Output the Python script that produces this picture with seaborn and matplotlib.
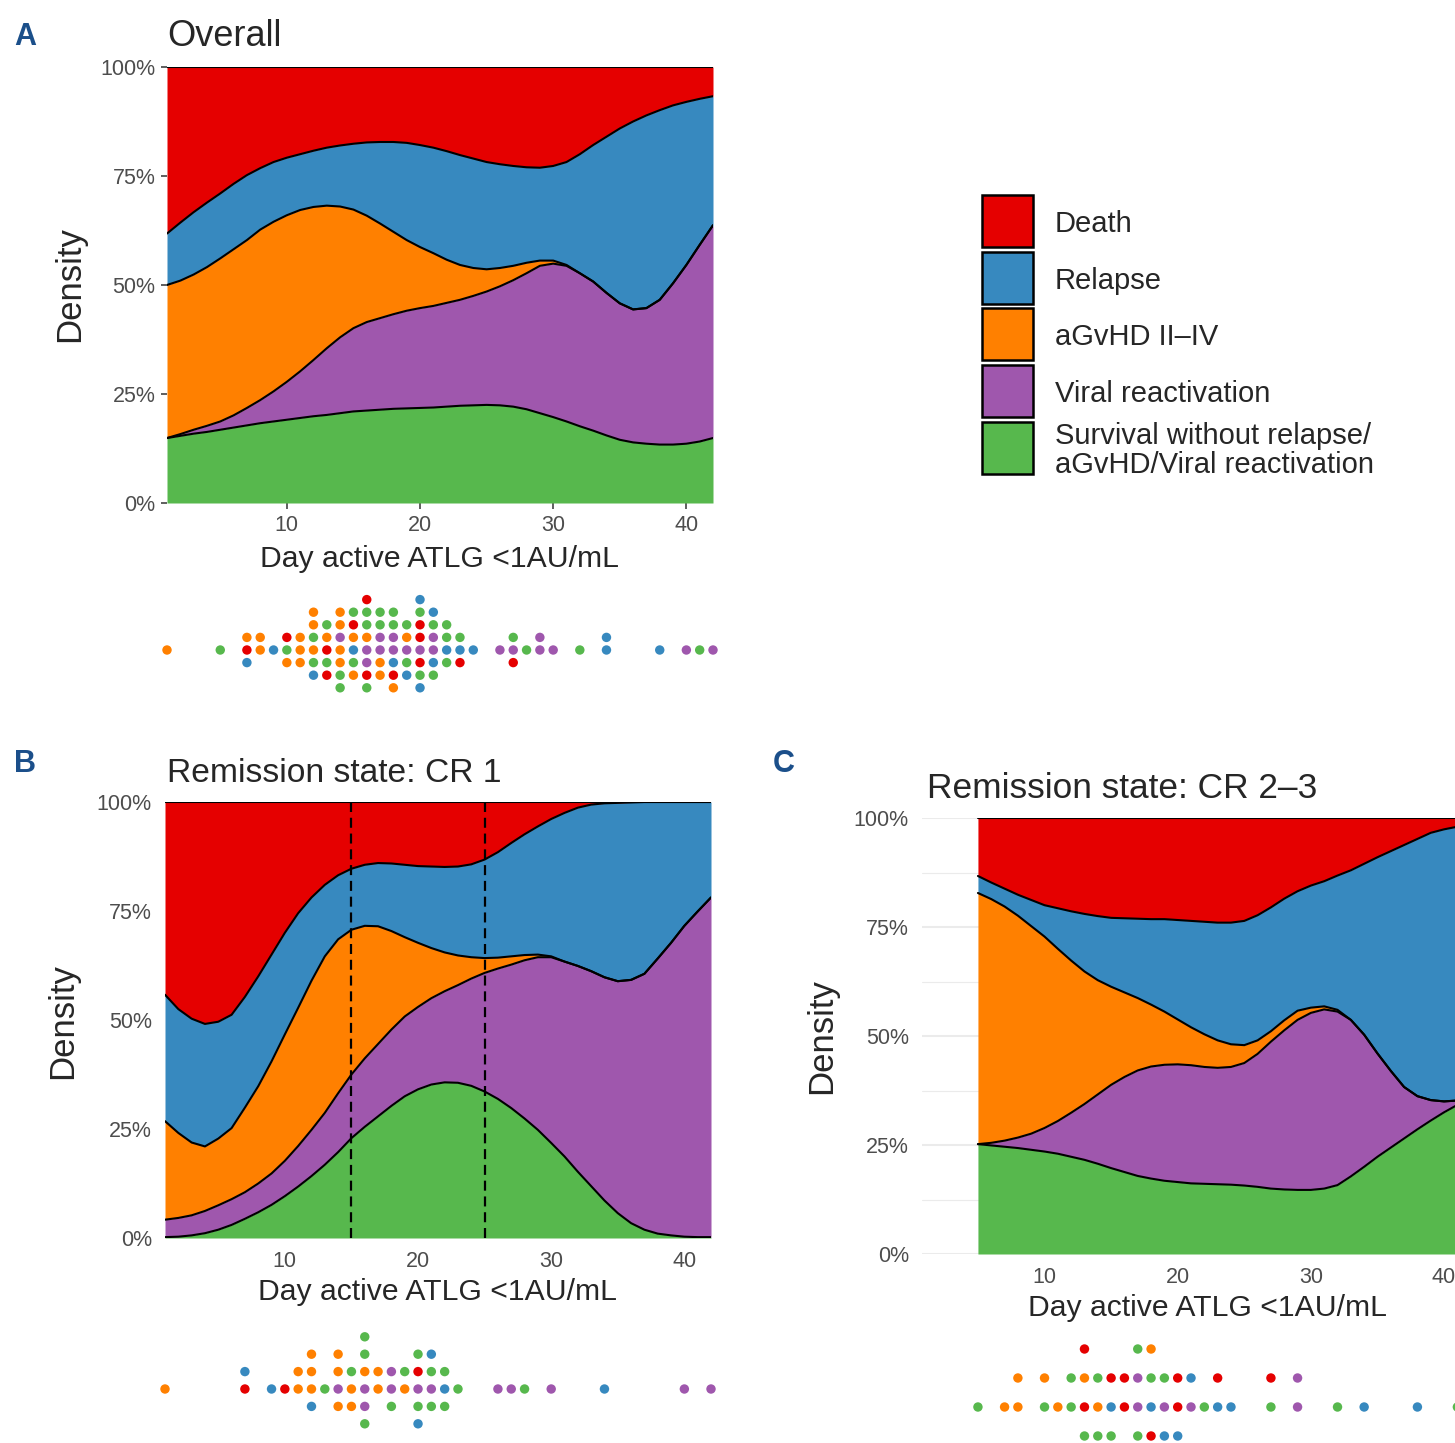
import numpy as np
import pandas as pd
import matplotlib
matplotlib.use("Agg")
import matplotlib.pyplot as plt
import seaborn as sns
from matplotlib.patches import Rectangle

sns.set_theme(style="white")
plt.rcParams['font.family'] = ['Liberation Sans', 'DejaVu Sans']

# ---------------- data ----------------
outcome_codes = ["R", "B", "O", "P", "G"]
outcome_labels = ["Death", "Relapse", "aGvHD II\u2013IV", "Viral reactivation",
                  "Survival without relapse/\naGvHD/Viral reactivation"]
outcome_colors = {"R": "#E50000", "B": "#3789BF", "O": "#FF8000",
                  "P": "#9F57AD", "G": "#57B84D"}

# Panel A: cumulative (stacked) conditional density boundaries, read per day
days_A = list(range(1, 43))
A_green_top = [0.149, 0.154, 0.159, 0.163, 0.168, 0.173, 0.178, 0.183, 0.187, 0.191,
               0.195, 0.199, 0.202, 0.206, 0.210, 0.212, 0.214, 0.216, 0.217, 0.218,
               0.219, 0.221, 0.223, 0.224, 0.225, 0.224, 0.221, 0.215, 0.206, 0.197,
               0.187, 0.176, 0.166, 0.155, 0.145, 0.139, 0.136, 0.134, 0.134, 0.136,
               0.141, 0.149]
A_purple_top = [0.149, 0.158, 0.168, 0.177, 0.187, 0.201, 0.218, 0.236, 0.256, 0.278,
                0.302, 0.328, 0.355, 0.380, 0.401, 0.415, 0.424, 0.433, 0.441, 0.447,
                0.452, 0.459, 0.466, 0.475, 0.485, 0.497, 0.511, 0.527, 0.544, 0.549,
                0.544, 0.527, 0.508, 0.482, 0.458, 0.444, 0.447, 0.466, 0.504, 0.546,
                0.592, 0.637]
A_orange_top = [0.500, 0.510, 0.524, 0.541, 0.561, 0.582, 0.603, 0.627, 0.645, 0.660,
                0.672, 0.679, 0.682, 0.680, 0.673, 0.659, 0.641, 0.622, 0.603, 0.587,
                0.573, 0.558, 0.546, 0.539, 0.536, 0.539, 0.544, 0.551, 0.556, 0.556,
                0.546, 0.527, 0.508, 0.482, 0.458, 0.444, 0.447, 0.466, 0.504, 0.546,
                0.592, 0.637]
A_blue_top = [0.618, 0.643, 0.667, 0.689, 0.710, 0.732, 0.752, 0.768, 0.782, 0.792,
              0.800, 0.808, 0.815, 0.820, 0.824, 0.827, 0.828, 0.828, 0.826, 0.821,
              0.815, 0.807, 0.798, 0.790, 0.782, 0.777, 0.773, 0.770, 0.769, 0.773,
              0.782, 0.800, 0.821, 0.840, 0.859, 0.875, 0.889, 0.901, 0.912, 0.920,
              0.927, 0.933]
A_red_top = [1.0] * len(days_A)

# Panel B
days_B = list(range(1, 43))
B_green_top = [0.002, 0.003, 0.006, 0.011, 0.019, 0.030, 0.044, 0.059, 0.076, 0.096,
               0.118, 0.142, 0.168, 0.197, 0.229, 0.255, 0.279, 0.303, 0.325, 0.341,
               0.352, 0.357, 0.356, 0.349, 0.336, 0.319, 0.298, 0.274, 0.248, 0.218,
               0.187, 0.152, 0.119, 0.086, 0.057, 0.034, 0.019, 0.010, 0.006, 0.003,
               0.002, 0.002]
B_purple_top = [0.042, 0.046, 0.052, 0.062, 0.075, 0.089, 0.105, 0.125, 0.148, 0.177,
                0.211, 0.248, 0.287, 0.332, 0.375, 0.412, 0.445, 0.478, 0.508, 0.530,
                0.550, 0.566, 0.580, 0.595, 0.608, 0.618, 0.627, 0.637, 0.644, 0.644,
                0.634, 0.624, 0.612, 0.598, 0.589, 0.592, 0.606, 0.641, 0.677, 0.716,
                0.749, 0.781]
B_orange_top = [0.268, 0.241, 0.219, 0.210, 0.228, 0.252, 0.299, 0.348, 0.405, 0.467,
                0.528, 0.590, 0.646, 0.685, 0.707, 0.716, 0.715, 0.704, 0.690, 0.677,
                0.665, 0.655, 0.648, 0.644, 0.642, 0.643, 0.646, 0.649, 0.650, 0.646,
                0.634, 0.624, 0.612, 0.598, 0.589, 0.592, 0.606, 0.641, 0.677, 0.716,
                0.749, 0.781]
B_blue_top = [0.558, 0.525, 0.503, 0.491, 0.496, 0.512, 0.553, 0.600, 0.650, 0.700,
              0.745, 0.781, 0.810, 0.832, 0.847, 0.856, 0.860, 0.859, 0.856, 0.853,
              0.852, 0.851, 0.852, 0.857, 0.868, 0.885, 0.906, 0.926, 0.944, 0.961,
              0.975, 0.987, 0.994, 0.997, 0.998, 0.999, 1.0, 1.0, 1.0, 1.0,
              1.0, 1.0]
B_red_top = [1.0] * len(days_B)
B_cutoffs = [15, 25]

# Panel C
days_C = list(range(5, 43))
C_green_top = [0.252, 0.249, 0.246, 0.243, 0.239, 0.235, 0.230, 0.223, 0.216, 0.207,
               0.197, 0.188, 0.179, 0.173, 0.168, 0.165, 0.162, 0.161, 0.160, 0.159,
               0.157, 0.154, 0.150, 0.148, 0.147, 0.147, 0.150, 0.158, 0.178, 0.200,
               0.223, 0.244, 0.265, 0.286, 0.306, 0.325, 0.342, 0.360]
C_purple_top = [0.252, 0.255, 0.260, 0.267, 0.276, 0.289, 0.305, 0.324, 0.344, 0.366,
                0.388, 0.406, 0.421, 0.430, 0.434, 0.435, 0.433, 0.429, 0.427, 0.429,
                0.438, 0.459, 0.487, 0.513, 0.537, 0.553, 0.561, 0.556, 0.537, 0.503,
                0.460, 0.420, 0.383, 0.362, 0.353, 0.350, 0.352, 0.360]
C_orange_top = [0.828, 0.814, 0.797, 0.776, 0.752, 0.728, 0.700, 0.673, 0.648, 0.628,
                0.613, 0.600, 0.587, 0.572, 0.556, 0.538, 0.520, 0.504, 0.490, 0.481,
                0.479, 0.490, 0.511, 0.536, 0.558, 0.565, 0.568, 0.560, 0.537, 0.503,
                0.460, 0.420, 0.383, 0.362, 0.353, 0.350, 0.352, 0.360]
C_blue_top = [0.867, 0.852, 0.838, 0.824, 0.812, 0.800, 0.793, 0.786, 0.780, 0.775,
              0.771, 0.770, 0.769, 0.768, 0.768, 0.766, 0.764, 0.762, 0.760, 0.760,
              0.764, 0.777, 0.795, 0.815, 0.832, 0.845, 0.855, 0.868, 0.880, 0.895,
              0.910, 0.924, 0.938, 0.952, 0.966, 0.974, 0.980, 0.985]
C_red_top = [1.0] * len(days_C)

# Dot plots: day of each column and outcome codes of its dots (top -> bottom)
dots_A_days = [1, 5, 7, 8, 9, 10, 11, 12, 13, 14, 15, 16, 17, 18, 19, 20, 21, 22, 23, 24,
               26, 27, 28, 29, 30, 32, 34, 38, 40, 41, 42]
dots_A_stacks = ["O", "G", "ORB", "OO", "B", "RGO", "OOO", "OOGOGB", "GORGR", "OOPOOGG",
                 "GROBGO", "RGGOPPRG", "GGPPOO", "GGPPBRO", "GOPGB", "BGRRPRGB", "BGPPBG",
                 "GGBG", "GBR", "B", "P", "GPR", "G", "PP", "P", "G", "BB", "B", "P", "G", "P"]

dots_B_days = [1, 7, 9, 10, 11, 12, 13, 14, 15, 16, 17, 18, 19, 20, 21, 22, 23,
               26, 27, 28, 30, 34, 40, 42]
dots_B_stacks = ["O", "BR", "B", "R", "OO", "OOOB", "G", "OOPO", "GOO", "GGOPPG", "OO",
                 "PPG", "GO", "GRPGB", "BGPG", "GBG", "G", "P", "P", "G", "P", "B", "P", "P"]

dots_C_days = [5, 7, 8, 10, 11, 12, 13, 14, 15, 16, 17, 18, 19, 20, 21, 22, 23, 24,
               27, 29, 32, 34, 38, 41]
dots_C_stacks = ["G", "O", "OO", "OG", "O", "GG", "RORG", "GOG", "RBG", "RR", "GPPG",
                 "OGBR", "GPB", "RRB", "BP", "G", "RB", "B", "RG", "PP", "G", "B", "B", "G"]

x_ticks = [10, 20, 30, 40]
y_ticks = [0, 0.25, 0.5, 0.75, 1.0]
y_ticklabels = ["0%", "25%", "50%", "75%", "100%"]
x_label = "Day active ATLG <1AU/mL"
y_label = "Density"
titles = ["Overall", "Remission state: CR 1", "Remission state: CR 2\u20133"]

# ---------------- figure ----------------
W, H = 1455, 1443
fig = plt.figure(figsize=(W / 100, H / 100), dpi=100)


def box(l, t, r, b):
    return [l / W, 1 - b / H, (r - l) / W, (b - t) / H]


def fx(x):
    return x / W


def fy(y):
    return 1 - y / H


TICK_GREY = "#4D4D4D"
TICK_SIZE = 15.5


def draw_density(ax, days, tops):
    lower = np.zeros(len(days))
    for code, top in zip(["G", "P", "O", "B", "R"], tops):
        top = np.asarray(top, float)
        ax.fill_between(days, lower, top, color=outcome_colors[code], lw=0, zorder=2)
        lower = top
    for top in tops:
        sns.lineplot(x=days, y=np.asarray(top, float), ax=ax, color="black", lw=1.5,
                     zorder=3, estimator=None, sort=False, legend=False)
    ax.set_ylim(0, 1)
    ax.set_xticks(x_ticks)
    ax.set_xticklabels([str(t) for t in x_ticks])
    ax.set_yticks(y_ticks)
    ax.set_yticklabels(y_ticklabels)
    ax.set_xlabel("")
    ax.set_ylabel("")
    for s in ax.spines.values():
        s.set_visible(False)


def dots_df(days, stacks):
    rows = []
    for d, s in zip(days, stacks):
        n = len(s)
        for i, c in enumerate(s):
            rows.append((d, n - i - 1 - (n - 1) // 2, c))
    return pd.DataFrame(rows, columns=["day", "row", "code"])


def draw_dots(axd, days, stacks, xlim, ylim):
    df = dots_df(days, stacks)
    sns.scatterplot(data=df, x="day", y="row", hue="code", palette=outcome_colors,
                    s=46, linewidth=0, legend=False, ax=axd, clip_on=False)
    axd.set_xlim(*xlim)
    axd.set_ylim(*ylim)
    axd.axis("off")


# ---- Panel A ----
axA = fig.add_axes(box(167, 67, 713, 503))
draw_density(axA, days_A, [A_green_top, A_purple_top, A_orange_top, A_blue_top, A_red_top])
axA.set_xlim(1, 42)
axA.tick_params(axis="both", which="major", bottom=True, left=True, length=4.3, width=1.1,
                color="#333333", labelsize=TICK_SIZE, labelcolor=TICK_GREY, pad=4)
axdA = fig.add_axes(box(167, 587, 713, 713))
draw_dots(axdA, dots_A_days, dots_A_stacks, (1, 42), (-5, 5))

# ---- Panel B ----
axB = fig.add_axes(box(165, 802, 711, 1238))
draw_density(axB, days_B, [B_green_top, B_purple_top, B_orange_top, B_blue_top, B_red_top])
axB.set_xlim(1, 42)
for c in B_cutoffs:
    axB.axvline(c, color="black", lw=1.6, ls=(0, (4.5, 2.6)), zorder=4)
axB.tick_params(axis="both", which="major", bottom=False, left=False, length=0,
                labelsize=TICK_SIZE, labelcolor=TICK_GREY, pad=9.5)
axdB = fig.add_axes(box(165, 1319.4, 711, 1458.6))
draw_dots(axdB, dots_B_days, dots_B_stacks, (1, 42), (-4, 4))

# ---- Panel C ----
axC = fig.add_axes(box(922, 818, 1492, 1254))
axC.set_axisbelow(True)
draw_density(axC, days_C, [C_green_top, C_purple_top, C_orange_top, C_blue_top, C_red_top])
axC.set_xlim(0.8, 43.6)
axC.set_yticks([0.125, 0.375, 0.625, 0.875], minor=True)
axC.grid(axis="y", which="major", color="#EBEBEB", lw=1.5, zorder=0)
axC.grid(axis="y", which="minor", color="#EBEBEB", lw=0.8, zorder=0)
axC.tick_params(axis="both", which="both", bottom=False, left=False, length=0,
                labelsize=TICK_SIZE, labelcolor=TICK_GREY, pad=9.5)
axdC = fig.add_axes(box(922, 1334.5, 1492, 1479.5))
draw_dots(axdC, dots_C_days, dots_C_stacks, (0.8, 43.6), (-2.5, 2.5))

# ---- texts ----
fig.text(fx(167), fy(46), titles[0], fontsize=26, va="baseline", ha="left")
fig.text(fx(167), fy(782), titles[1], fontsize=24.2, va="baseline", ha="left")
fig.text(fx(927), fy(798), titles[2], fontsize=25.4, va="baseline", ha="left")

fig.text(fx(440), fy(567), x_label, fontsize=21.7, va="baseline", ha="center")
fig.text(fx(438), fy(1300), x_label, fontsize=21.7, va="baseline", ha="center")
fig.text(fx(1207), fy(1316), x_label, fontsize=21.7, va="baseline", ha="center")

fig.text(fx(70), fy(284), y_label, fontsize=25, rotation=90, va="center", ha="center")
fig.text(fx(63), fy(1021), y_label, fontsize=25, rotation=90, va="center", ha="center")
fig.text(fx(822), fy(1036), y_label, fontsize=25, rotation=90, va="center", ha="center")

letter_color = "#1B4F8A"
fig.text(fx(14), fy(45), "A", fontsize=22, fontweight="bold", color=letter_color, va="baseline")
fig.text(fx(14), fy(772), "B", fontsize=22, fontweight="bold", color=letter_color, va="baseline")
fig.text(fx(773), fy(772), "C", fontsize=22, fontweight="bold", color=letter_color, va="baseline")

# ---- legend ----
for i, (code, lab) in enumerate(zip(outcome_codes, outcome_labels)):
    top = 195 + i * 56.7
    fig.add_artist(Rectangle((fx(982), fy(top + 52)), 51 / W, 52 / H,
                             transform=fig.transFigure, facecolor=outcome_colors[code],
                             edgecolor="black", lw=1.8))
    fig.text(fx(1055), fy(top + 29), lab, fontsize=21, va="center", ha="left",
             linespacing=1.05)

fig.savefig("out.png", dpi=100)
